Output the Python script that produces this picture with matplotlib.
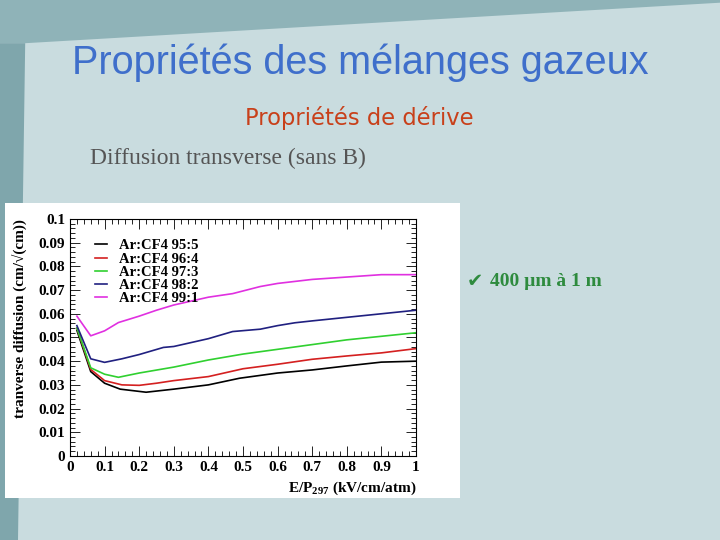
import matplotlib
matplotlib.use("Agg")
import matplotlib.pyplot as plt
from matplotlib.patches import Rectangle, Polygon
from matplotlib.ticker import MultipleLocator

plt.rcParams["mathtext.fontset"] = "custom"
plt.rcParams["mathtext.bf"] = "Liberation Serif:bold"
plt.rcParams["mathtext.rm"] = "Liberation Serif"

# data
x_ar95 = [0.02, 0.06, 0.1, 0.145, 0.22, 0.3, 0.4, 0.49, 0.6, 0.7, 0.8, 0.9, 1.0]
y_ar95 = [0.053, 0.0356, 0.0307, 0.0282, 0.0269, 0.0282, 0.030, 0.0328, 0.035, 0.0363, 0.038, 0.0396, 0.040]
x_ar96 = [0.02, 0.06, 0.1, 0.15, 0.2, 0.25, 0.3, 0.4, 0.5, 0.6, 0.7, 0.8, 0.9, 1.0]
y_ar96 = [0.054, 0.0365, 0.0318, 0.030, 0.0298, 0.0307, 0.0318, 0.0335, 0.0368, 0.0387, 0.0408, 0.0422, 0.0435, 0.0453]
x_ar97 = [0.02, 0.06, 0.1, 0.14, 0.2, 0.3, 0.4, 0.5, 0.6, 0.7, 0.8, 0.9, 1.0]
y_ar97 = [0.054, 0.0372, 0.0345, 0.0332, 0.035, 0.0375, 0.0405, 0.043, 0.045, 0.047, 0.049, 0.0505, 0.052]
x_ar98 = [0.02, 0.06, 0.1, 0.15, 0.2, 0.27, 0.3, 0.4, 0.47, 0.55, 0.6, 0.65, 0.7, 0.8, 0.9, 1.0]
y_ar98 = [0.055, 0.041, 0.0395, 0.041, 0.0428, 0.0458, 0.0462, 0.0495, 0.0525, 0.0535, 0.055, 0.0562, 0.057, 0.0585, 0.060, 0.0615]
x_ar99 = [0.02, 0.06, 0.1, 0.14, 0.2, 0.25, 0.3, 0.4, 0.47, 0.55, 0.6, 0.7, 0.8, 0.9, 1.0]
y_ar99 = [0.059, 0.0507, 0.0528, 0.0563, 0.059, 0.0615, 0.0637, 0.067, 0.0685, 0.0715, 0.0728, 0.0745, 0.0755, 0.0765, 0.0765]

labels = ["Ar:CF4 95:5", "Ar:CF4 96:4", "Ar:CF4 97:3", "Ar:CF4 98:2", "Ar:CF4 99:1"]
colors = ["black", "#d42020", "#30d030", "#202080", "#e030e0"]
xs = [x_ar95, x_ar96, x_ar97, x_ar98, x_ar99]
ys = [y_ar95, y_ar96, y_ar97, y_ar98, y_ar99]

fig = plt.figure(figsize=(7.2, 5.4), dpi=100)
fig.patch.set_facecolor("#c9dcdf")

# slide decoration: dark band on top and left, white box behind the plot
fig.patches.append(Polygon([[0, 1], [1, 1], [1, 0.995], [0.035, 0.92], [0, 0.92]],
                           closed=True, transform=fig.transFigure,
                           facecolor="#8fb3b8", edgecolor="none", zorder=-3))
fig.patches.append(Polygon([[0, 0], [0.025, 0], [0.035, 0.92], [0, 0.92]],
                           closed=True, transform=fig.transFigure,
                           facecolor="#7fa6ac", edgecolor="none", zorder=-3))
fig.patches.append(Rectangle((0.007, 0.077), 0.632, 0.547, transform=fig.transFigure,
                             facecolor="white", edgecolor="none", zorder=-2))

fig.text(0.5, 0.884, "Propriétés des mélanges gazeux", ha="center", va="center",
         fontsize=28.5, color="#3f6fcb", family="Liberation Sans")
fig.text(0.499, 0.781, "Propriétés de dérive", ha="center", va="center",
         fontsize=16.3, color="#c8401a", family=["Liberation Sans Narrow", "DejaVu Sans Condensed"])
fig.text(0.125, 0.707, "Diffusion transverse (sans B)", ha="left", va="center",
         fontsize=17, color="#555555", family="Liberation Serif")
fig.text(0.648, 0.479, "✔", ha="left", va="center", fontsize=14, color="#2e8b3e",
         family="DejaVu Sans")
fig.text(0.68, 0.479, "400 µm à 1 m", ha="left", va="center", fontsize=14,
         color="#2e8b3e", family="Liberation Serif", fontweight="bold")

ax = fig.add_axes([0.0972, 0.1556, 0.4806, 0.4389])
ax.patch.set_alpha(0)
for x, y, c, lab in zip(xs, ys, colors, labels):
    ax.plot(x, y, color=c, lw=1.2, label=lab)

ax.set_xlim(0, 1)
ax.set_ylim(0, 0.1)
ax.xaxis.set_minor_locator(MultipleLocator(0.02))
ax.yaxis.set_minor_locator(MultipleLocator(0.002))
ax.tick_params(which="both", direction="in", top=True, right=True, width=0.6)
ax.tick_params(which="major", length=7)
ax.tick_params(which="minor", length=3.5)
ax.set_xticks([i / 10 for i in range(11)])
ax.set_xticklabels(["0", "0.1", "0.2", "0.3", "0.4", "0.5", "0.6", "0.7", "0.8", "0.9", "1"])
ax.set_yticks([i / 100 for i in range(11)])
ax.set_yticklabels(["0"] + ["%.2f" % (i / 100) for i in range(1, 10)] + ["0.1"])
for lbl in ax.get_xticklabels() + ax.get_yticklabels():
    lbl.set_family("Liberation Serif")
    lbl.set_fontweight("bold")
    lbl.set_fontsize(11)
for s in ax.spines.values():
    s.set_linewidth(0.8)

ax.set_ylabel("tranverse diffusion (cm/√(cm))", family=["Liberation Serif", "DejaVu Serif"],
              fontweight="bold", fontsize=11)
ax.yaxis.set_label_coords(-0.125, 1.0)
ax.yaxis.label.set_ha("right")
ax.set_xlabel("E/P$_{\\mathbf{297}}$ (kV/cm/atm)", family="Liberation Serif",
              fontweight="bold", fontsize=11)
ax.xaxis.set_label_coords(1.0, -0.1)
ax.xaxis.label.set_ha("right")

leg = ax.legend(loc="upper left", bbox_to_anchor=(0.035, 0.97), frameon=False,
                handlelength=0.8, handletextpad=0.8, labelspacing=0.0,
                prop={"family": "Liberation Serif", "weight": "bold", "size": 10.5})

fig.savefig("out.png", dpi=100, facecolor=fig.get_facecolor())
